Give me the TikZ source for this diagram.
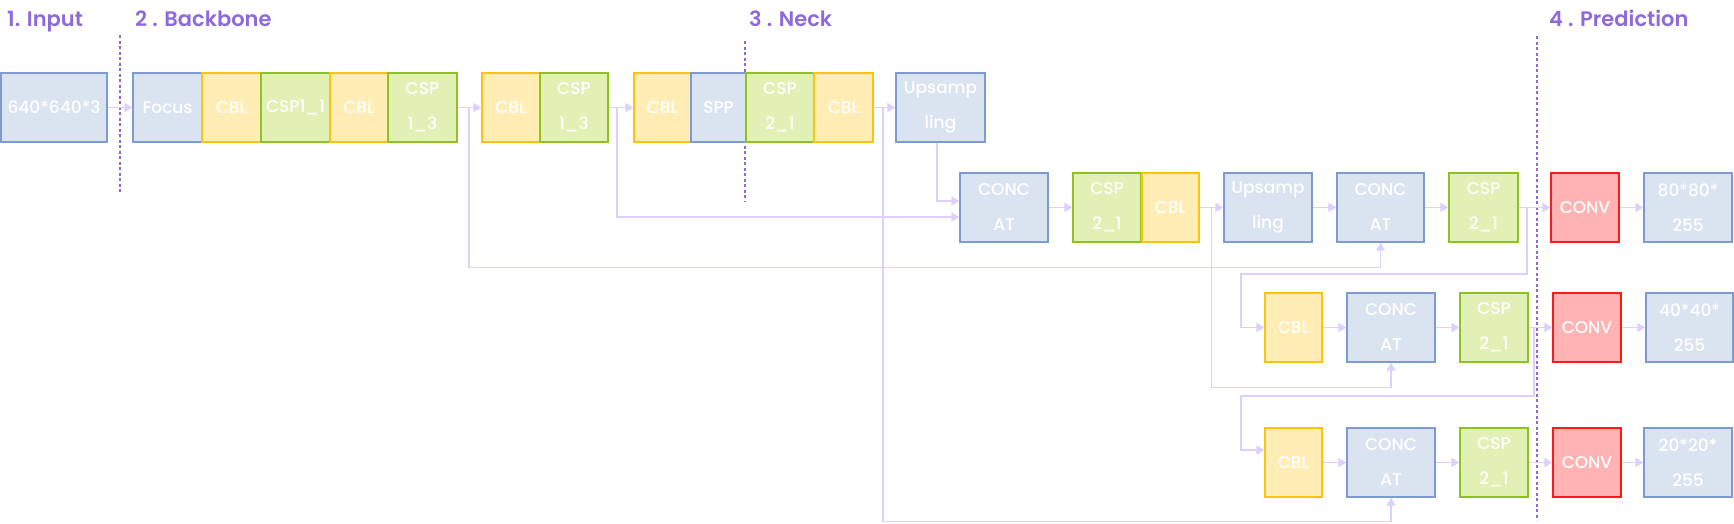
\documentclass[tikz,border=0pt]{standalone}
\usepackage{fontspec}
\setmainfont{Poppins}[UprightFont=* Medium]
\newfontfamily\ttlfont{Poppins SemiBold}
\usetikzlibrary{arrows.meta}
\definecolor{blueF}{HTML}{DAE3F0}
\definecolor{blueD}{HTML}{7D9BD0}
\definecolor{yelF}{HTML}{FFEDB5}
\definecolor{yelD}{HTML}{FFC20E}
\definecolor{grnF}{HTML}{E1F0B4}
\definecolor{grnD}{HTML}{8DC21F}
\definecolor{redF}{HTML}{FFB3B3}
\definecolor{redD}{HTML}{FF1A1A}
\definecolor{connC}{HTML}{DDD0FF}
\definecolor{titleC}{HTML}{8E69DB}
\begin{document}
\begin{tikzpicture}[x=1pt,y=1pt,
  box/.style={draw, line width=1.3pt, inner sep=0pt, minimum height=69pt,
    text=white, align=center, font=\fontsize{17}{35}\selectfont},
  bluebox/.style={box, fill=blueF, draw=blueD},
  yelbox/.style={box, fill=yelF, draw=yelD},
  grnbox/.style={box, fill=grnF, draw=grnD},
  redbox/.style={box, fill=redF, draw=redD},
  conn/.style={draw=connC, line width=1.6pt, -{Triangle[length=8pt,width=9pt]}},
  sep/.style={draw=titleC, line width=1.5pt, dash pattern=on 3pt off 2.5pt},
  ttl/.style={text=titleC, anchor=base west, inner sep=0pt, font=\ttlfont\fontsize{21}{25}\selectfont}]
\useasboundingbox (0,0) rectangle (1734,-523);

% titles
\node[ttl] (t1) at (7,-26) {1. Input};
\node[ttl] (t2) at (135,-26) {2 . Backbone};
\node[ttl] (t3) at (749,-26) {3 . Neck};
\node[ttl] (t4) at (1549,-26) {4 . Prediction};

% separators
\draw[sep] (120,-35) -- (120,-194);
\draw[sep] (745,-41) -- (745,-201);
\draw[sep] (1537,-36) -- (1537,-520);

% row 1
\node[bluebox, minimum width=106pt] (in) at (54,-107.5) {640*640*3};
\node[bluebox, minimum width=69pt] (focus) at (167.5,-107.5) {Focus};
\node[yelbox, minimum width=59pt] (cbl1) at (231.5,-107.5) {CBL};
\node[grnbox, minimum width=69pt] (csp11) at (295.5,-107.5) {CSP1\_1};
\node[yelbox, minimum width=58pt] (cbl2) at (359,-107.5) {CBL};
\node[grnbox, minimum width=69pt] (csp13a) at (422.5,-107.5) {CSP\\1\_3};
\node[yelbox, minimum width=58pt] (cbl3) at (511,-107.5) {CBL};
\node[grnbox, minimum width=68pt] (csp13b) at (574,-107.5) {CSP\\1\_3};
\node[yelbox, minimum width=57pt] (cbl4) at (662.5,-107.5) {CBL};
\node[bluebox, minimum width=55pt] (spp) at (718.5,-107.5) {SPP};
\node[grnbox, minimum width=68pt] (csp21a) at (780,-107.5) {CSP\\2\_1};
\node[yelbox, minimum width=59pt] (cbl5) at (843.5,-107.5) {CBL};
\node[bluebox, minimum width=89pt] (up1) at (940.5,-107.5) {Upsamp\\ling};

% row 2
\node[bluebox, minimum width=88pt] (cat1) at (1004,-207.5) {CONC\\AT};
\node[grnbox, minimum width=68pt] (csp21b) at (1107,-207.5) {CSP\\2\_1};
\node[yelbox, minimum width=57pt] (cbl6) at (1170.5,-207.5) {CBL};
\node[bluebox, minimum width=88pt] (up2) at (1268,-207.5) {Upsamp\\ling};
\node[bluebox, minimum width=87pt] (cat2) at (1380.5,-207.5) {CONC\\AT};
\node[grnbox, minimum width=69pt] (csp21c) at (1483.5,-207.5) {CSP\\2\_1};
\node[redbox, minimum width=68pt] (conv1) at (1585,-207.5) {CONV};
\node[bluebox, minimum width=88pt] (out1) at (1688,-207.5) {80*80*\\255};

% row 3
\node[yelbox, minimum width=57pt] (cbl7) at (1293.5,-327.5) {CBL};
\node[bluebox, minimum width=88pt] (cat3) at (1391,-327.5) {CONC\\AT};
\node[grnbox, minimum width=68pt] (csp21d) at (1494,-327.5) {CSP\\2\_1};
\node[redbox, minimum width=68pt] (conv2) at (1587,-327.5) {CONV};
\node[bluebox, minimum width=87pt] (out2) at (1689.5,-327.5) {40*40*\\255};

% row 4
\node[yelbox, minimum width=57pt] (cbl8) at (1293.5,-462.5) {CBL};
\node[bluebox, minimum width=88pt] (cat4) at (1391,-462.5) {CONC\\AT};
\node[grnbox, minimum width=68pt] (csp21e) at (1494,-462.5) {CSP\\2\_1};
\node[redbox, minimum width=68pt] (conv3) at (1587,-462.5) {CONV};
\node[bluebox, minimum width=88pt] (out3) at (1688,-462.5) {20*20*\\255};

% branch points
\coordinate (b1) at (469,-107.5);
\coordinate (b2) at (617,-107.5);
\coordinate (b3) at (883,-107.5);
\coordinate (b4) at (1211.5,-207.5);
\coordinate (b5) at (1527,-207.5);
\coordinate (b6) at (1534,-327.5);
\coordinate (k1) at (1241,-274);
\coordinate (k2) at (1241,-396);

% straight connectors
\draw[conn] (in) -- (focus);
\draw[conn] (csp13a) -- (cbl3);
\draw[conn] (csp13b) -- (cbl4);
\draw[conn] (cbl5) -- (up1);
\draw[conn] (cat1) -- (csp21b);
\draw[conn] (cbl6) -- (up2);
\draw[conn] (up2) -- (cat2);
\draw[conn] (cat2) -- (csp21c);
\draw[conn] (csp21c) -- (conv1);
\draw[conn] (conv1) -- (out1);
\draw[conn] (cbl7) -- (cat3);
\draw[conn] (cat3) -- (csp21d);
\draw[conn] (csp21d) -- (conv2);
\draw[conn] (conv2) -- (out2);
\draw[conn] (cbl8) -- (cat4);
\draw[conn] (cat4) -- (csp21e);
\draw[conn] (csp21e) -- (conv3);
\draw[conn] (conv3) -- (out3);

% routed connectors
\draw[conn] ([xshift=-3.5pt]up1.south) |- ([yshift=6.5pt]cat1.west);
\draw[conn] (b2) |- ([yshift=-9.5pt]cat1.west);
\draw[conn] (b1) |- ([yshift=-25pt]cat2.south) -- (cat2.south);
\draw[conn] (b3) |- ([yshift=-24pt]cat4.south) -- (cat4.south);
\draw[conn] (b4) |- ([yshift=-25pt]cat3.south) -- (cat3.south);
\draw[conn] (b5) |- (k1) |- (cbl7.west);
\draw[conn] (b6) |- (k2) |- ([yshift=12.5pt]cbl8.west);
\end{tikzpicture}
\end{document}
